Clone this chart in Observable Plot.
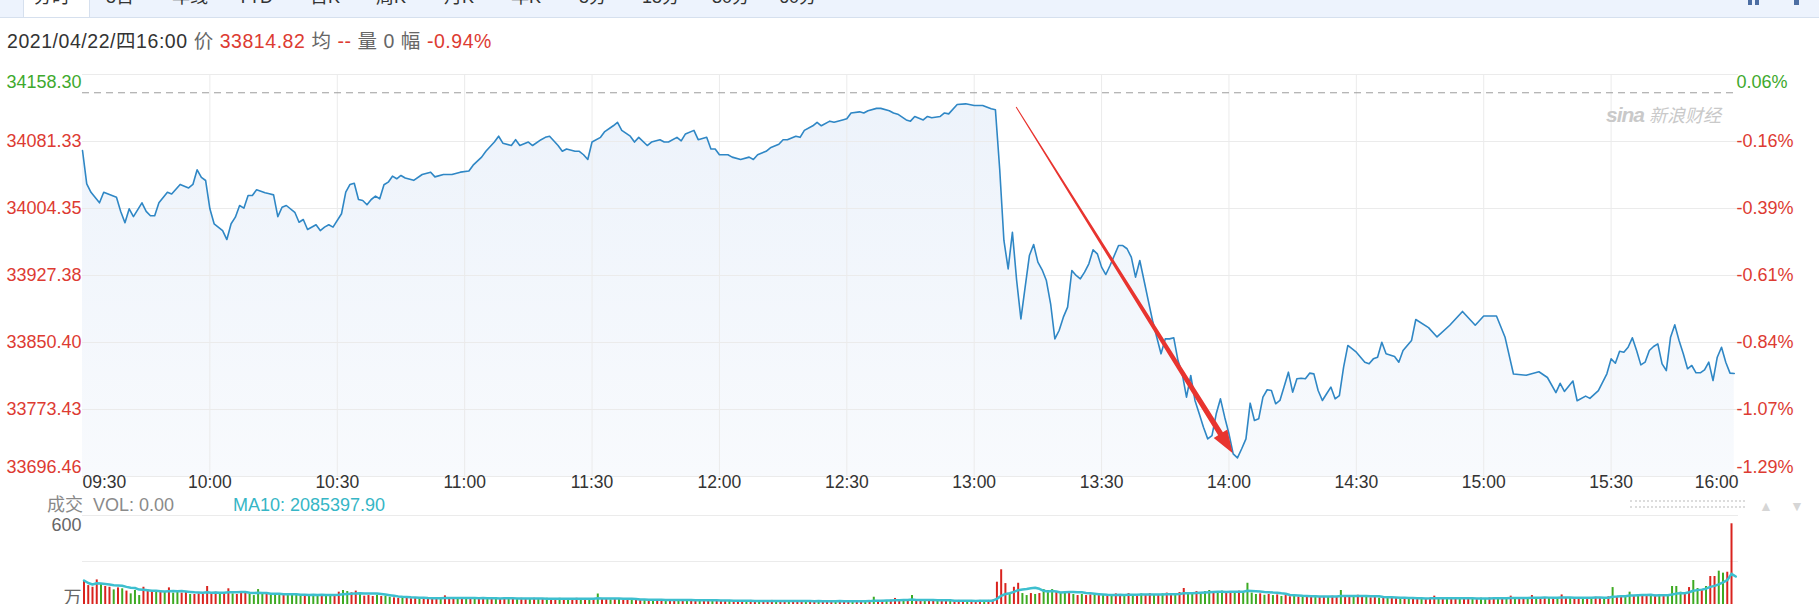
<!DOCTYPE html>
<html><head><meta charset="utf-8">
<script src="https://cdn.jsdelivr.net/npm/d3@7"></script>
<script src="https://cdn.jsdelivr.net/npm/@observablehq/plot@0.6"></script>
<style>
html,body{margin:0;padding:0;background:#fff;width:1819px;height:604px;overflow:hidden;font-family:"Liberation Sans",Arial,"Noto Sans CJK SC",sans-serif;}
#root{position:relative;width:1819px;height:604px;overflow:hidden;}
.abs{position:absolute;white-space:nowrap;line-height:1;}
#tabs{position:absolute;left:0;top:0;width:1819px;height:17px;background:#edf3fd;border-bottom:1px solid #d6e0ee;overflow:hidden;}
#active{position:absolute;left:23px;top:0;width:65px;height:18px;background:#fff;border-left:1px solid #d6e0ee;border-right:1px solid #d6e0ee;}
.tab{position:absolute;top:-12px;font-size:18px;line-height:18px;color:#333;transform:translateX(-50%);}
.r{color:#dd3b32}.gr{color:#666}
svg{position:absolute;left:0;overflow:visible}
</style></head>
<body><div id="root">
<div id="tabs"><div id="active"></div></div>
</div>
<script>
// ---------- data ----------
const tabLabels = ["分时","5日","年线","YTD","日K","周K","月K","年K","5分","15分","30分","60分"];
const prevClose = 34137.31;
const priceTicks = [34158.30, 34081.33, 34004.35, 33927.38, 33850.40, 33773.43, 33696.46];
const priceTickLabels = ["34158.30","34081.33","34004.35","33927.38","33850.40","33773.43","33696.46"];
const pctTickLabels = ["0.06%","-0.16%","-0.39%","-0.61%","-0.84%","-1.07%","-1.29%"];
const timeTicks = ["09:30","10:00","10:30","11:00","11:30","12:00","12:30","13:00","13:30","14:00","14:30","15:00","15:30","16:00"];

// [minutes since 09:30, index level]
const priceMorning = [
[0,34071],[1,34032.7],[2,34023],[4,34010.9],[5,34023],[8,34017.3],[9,34001],[10,33988],[11,34004],[12,33995],[14,34010.9],[15,34001],[16,33996],[17,33996],[18,34010.9],[20,34023],[21,34021],[23,34032],[25,34028],[26,34032],[27,34048.8],[28,34040],[29,34036.5],[30,34004],[31,33986.8],[33,33979],[34,33968.7],[35,33986.8],[36,33994.4],[37,34007.8],[38,34004.7],[39,34019.3],[40,34019.3],[41,34025.8],[43,34022.4],[44,34021.2],[45,34020],[46,33995],[47,34005.8],[48,34007.8],[50,34000],[51,33988.6],[52,33991.7],[53,33980.2],[55,33985.6],[56,33979],[57,33982.9],[58,33985.6],[59,33982.9],[61,33998.3],[62,34023.1],[63,34032],[64,34033.4],[65,34014.7],[66,34013.5],[67,34008.6],[68,34014.7],[69,34018.5],[70,34015.5],[71,34031.6],[72,34034.6],[73,34041.5],[74,34038.5],[75,34042.3],
[76,34039.4],[78,34036.7],[80,34043.4],[82,34046.1],[83,34040.7],[85,34043.4],[87,34043.4],[89,34046.1],[91,34047.4],[92,34054.1],[94,34063.4],[95,34070.1],[97,34080.7],[98,34087.4],[99,34079.4],[101,34076.7],[102,34083.4],[103,34076.7],[105,34080.7],[106,34076.7],[108,34083.4],[109,34086.1],[110,34087.4],[112,34076.7],[113,34070.1],[114,34072.7],[116,34070.1],[117,34070.1],[118,34066.1],[119,34060.7],[120,34080.7],[122,34086.1],[123,34092.7],[125,34099.4],[126,34103.4],[127,34094.1],[129,34087.4],[130,34080.7],[131,34086.1],[133,34076.7],[134,34080.7],[136,34083.4],[137,34080.7],[138,34080.7],[140,34086.1],[141,34082.1],[142,34090],[144,34094.1],[145,34083.4],[147,34086.1],[148,34072.7],[149,34072.7],[150,34066.1],[152,34066.1],[153,34063.4],[155,34060.7],[157,34063.4],[158,34060.7],[159,34066.1],[161,34070.1],[162,34074.1],[164,34078.1],[165,34083.4],[166,34083.4],[168,34087.4],[169,34086.1],[170,34094.1],[172,34099.4],[173,34103.4],[174,34099.4],[176,34104.7],[177,34103.4],[179,34106.1],[180,34107.4],[181,34114.1],[183,34115.4],[184,34114.1],[185,34116.7],[187,34119.4],[188,34119.4],[190,34116.7],[191,34114.1],[192,34112.7],[194,34106.1],[195,34104.7],[196,34110.1],[198,34106.1],[199,34110.1],[200,34108.7],[202,34110.1],[203,34114.1]
];
const priceAfternoon = [
[204,34113.1],[206,34123.8],[208,34124.6],[210,34122.7],[212,34122.7],[214,34118.9],[215,34117.7],[216,34050],[217,33967.6],[218,33935],[219,33977.1],[220,33921.6],[221,33877.6],[222,33914],[223,33950.3],[224,33963],[225,33942.7],[226,33933.9],[227,33921.6],[228,33894.9],[229,33854.6],[230,33864.2],[231,33879.5],[232,33891],[233,33933.1],[234,33927.4],[235,33923.6],[236,33931.2],[237,33940.8],[238,33956.9],[239,33952.3],[240,33937],[241,33928.5],[242,33938.9],[244,33961.8],[245,33961.8],[246,33958.1],[247,33948.4],[248,33925.5],[249,33944.6],[250,33921.6],[251,33898.6],[252,33875.7],[253,33856.5],[254,33837.4],[255,33854.6],[256,33854.6],[257,33855.8],[258,33829.7],[259,33814.4],[260,33787.6],[261,33812.5],[262,33783.8],[263,33768.5],[264,33753.1],[265,33739.7],[266,33743.5],[267,33768.5],[268,33785.7],[269,33764.6],[270,33745.5],[271,33722.5],[272,33717.9],[273,33728.3],[274,33739.7],[275,33780.7],[276,33760.8],[277,33762.7],[278,33787.6],[279,33796.1],[280,33795.2],[281,33780],[282,33783.8],[283,33799.8],[284,33816.3],[285,33793.3],[286,33808.7],[287,33809.4],[288,33808.7],[289,33815.2],[290,33814.4],[291,33795.2],[292,33783.8],[293,33791.5],[294,33799.2],[295,33785.7],[296,33789.5],[297,33822.2],[298,33847],[300,33839.3],[302,33827.8],[303,33825.9],[304,33831.6],[305,33833.5],[306,33850.7],[307,33837.4],[309,33834.3],[310,33827.8],[311,33841.2],
[313,33852.8],[314,33876.8],[317,33867.5],[319,33856.8],[322,33870.2],[325,33886.1],[328,33870.2],[330,33880.9],[333,33880.9],[335,33856.8],[337,33814.2],[340,33812.8],[343,33816.8],[345,33810.2],[347,33792.8],[348,33803.5],[349,33794.2],[351,33806.2],[352,33783.5],[354,33788.8],[355,33786.2],
[357,33795.2],[359,33814.4],[360,33831.6],[361,33826.6],[362,33840.4],[363,33839.3],[364,33845],[365,33855.8],[366,33841.2],[367,33824.7],[368,33827.8],[369,33841.2],[370,33845.8],[371,33848.9],[372,33825.9],[373,33818.2],[374,33856.5],[375,33870.7],[376,33852.7],[377,33837.4],[378,33820.2],[379,33824],[380,33815.6],[381,33815.6],[382,33819],[383,33827.8],[384,33806.7],[385,33833.5],[386,33845],[387,33827.8],[388,33815.2],[389,33814.82]
];

// per-minute volume (万), one array per half hour
const vol0930 = [176,143,132,180,150,137,132,115,128,122,107,89,111,78,132,111,107,100,107,100,128,94,100,94,100,85,85,89,85,137];
const vol1000 = [98,100,92,96,122,89,85,100,92,85,78,117,85,89,80,85,78,82,85,89,80,78,85,80,85,78,82,78,85,80];
const vol1030 = [100,111,104,96,107,85,74,78,72,80,72,74,67,63,60,63,60,57,63,60,65,57,60,63,57,76,57,60,65,57];
const vol1100 = [60,57,63,57,60,65,57,60,57,63,60,57,55,60,57,57,60,55,57,60,55,57,60,57,55,57,60,55,57,57];
const vol1130 = [57,88,52,57,50,55,52,48,55,50,52,48,50,46,52,48,50,46,48,50,46,48,50,46,48,44,46,48,44,46];
const vol1200 = [44,42,46,40,44,42,40,46,42,44,40,42,46,40,42,44,40,42,38,44,40,42,40,44,38,42,40,44,42,40];
const vol1230 = [40,42,38,44,40,46,67,44,46,42,48,59,44,46,42,78,46,44,48,42,46,44,40,46,42,44,46,40,44,42];
const vol1300 = [44,46,42,46,48,165,246,156,91,132,158,91,78,91,85,91,117,111,117,104,98,104,91,85,78,85,78,82,85,78];
const vol1330 = [78,85,80,89,85,78,91,85,82,89,85,91,80,85,89,94,85,91,98,124,85,94,104,98,104,111,98,104,107,100];
const vol1400 = [104,98,107,100,158,94,85,89,80,85,78,82,72,78,70,74,68,72,76,70,74,68,72,70,74,68,111,72,66,70];
const vol1430 = [80,66,70,63,68,61,66,59,63,61,57,63,59,61,57,55,59,61,74,59,57,61,55,59,57,61,63,59,57,61];
const vol1500 = [59,63,57,61,59,63,74,61,59,63,61,78,63,59,65,61,63,59,82,63,65,61,59,63,65,61,67,63,65,70];
const vol1530 = [130,72,78,70,100,72,78,80,72,78,80,85,78,82,137,137,100,85,130,176,124,117,137,202,202,237,224,230,546,0];
// bar colour per minute: r = up, g = down
const volColour = [
"rrrrgrrgrgrgggrrrgrgrggrrgrrrr","rrgrrgrrrggggrgggrggggrgggrggr","rggrrgrrrgrggrrgrrrgrrrrgrrrgr",
"grgrrgrgrrgrgrrgrgrgrrgrgrrgrg","rgrrgrgrrgrrgrgrrgrrgrgrrgrrgr","rrgrrrgrrgrrrgrrgrrrgrrgrrrgrr",
"rgrrgrgrrgrrrgrgrrgrrgrrgrrrgr","rrgrrrrrgrrggrgrgggrggrgrgrrgr","grgrrgrgrgrrgrgrrgrrggrgggrggr",
"rgrggggrgrgrgrrgrgrrgrrgrrgrrg","rrgrrgrgrrgrgrrgrrrgrgrrgrrgrg","grrgrgrgrrgrgrrgrgrrgrrgrgrrgr",
"grrggrgrrgrgrggggrrggrgrrggrrr"];
const arrowFrom = ["13:10", 34120.4];
const arrowTo = ["14:01", 33722.5];

// ---------- helpers ----------
const toMin = s => { const [h, m] = s.split(":").map(Number); return h * 60 + m - 570; };
const RED = "#dd3b32", GREEN = "#3ea92d", FONT = '"Liberation Sans", Arial, "Noto Sans CJK SC", sans-serif';
const root = document.getElementById("root");
function label(html, left, cy, size, color, extra) {
  const d = document.createElement("div");
  d.className = "abs";
  d.style.left = left + "px"; d.style.top = (cy - size / 2) + "px";
  d.style.fontSize = size + "px"; d.style.height = size + "px"; d.style.color = color;
  if (extra) Object.assign(d.style, extra);
  d.innerHTML = html; root.appendChild(d); return d;
}

// tabs
const tabX = [52,120,190,255,325,391,459,526,593,661,731,798];
const tabs = document.getElementById("tabs");
tabLabels.forEach((t, i) => { const d = document.createElement("div"); d.className = "tab"; d.style.left = tabX[i] + "px"; d.textContent = t; tabs.appendChild(d); });
[[1748,4],[1755,4],[1794,5]].forEach(([x,w]) => { const d = document.createElement("div"); Object.assign(d.style,{position:"absolute",left:x+"px",top:"0px",width:w+"px",height:"5px",background:"#4d6ea3"}); tabs.appendChild(d); });

// info line
label('<span style="color:#333">2021/04/22/四16:00</span> <span class="gr">价</span> <span class="r">33814.82</span> <span class="gr">均</span> <span class="r">--</span> <span class="gr">量 0</span> <span class="gr">幅</span> <span class="r">-0.94%</span>', 7, 42, 19.5, "#333", {letterSpacing: "0.55px"});

// ---------- price chart ----------
const priceData = priceMorning.concat(priceAfternoon).map(([m, p]) => ({m, p}));
const yMin = priceTicks[priceTicks.length - 1], yMax = priceTicks[0];
const tickData = priceTicks.map((v, i) => ({v, label: priceTickLabels[i], pct: pctTickLabels[i], i}));
const timeData = timeTicks.map((t, i) => ({m: toMin(t), t, i}));
const last = timeTicks.length - 1, lastTick = priceTicks.length - 1;

function arrowMark(index, scales) {
  const x = scales.x, y = scales.y;
  const g = d3.create("svg:g");
  if (typeof x !== "function") return g.node();
  const x0 = x(toMin(arrowFrom[0])), y0 = y(arrowFrom[1]);
  const x1 = x(toMin(arrowTo[0])), y1 = y(arrowTo[1]);
  const L = Math.hypot(x1 - x0, y1 - y0), ux = (x1 - x0) / L, uy = (y1 - y0) / L, nx = -uy, ny = ux;
  const H = 23, W = 8, w0 = 0.5, w1 = 2.8;
  const bx = x1 - ux * H, by = y1 - uy * H;
  const pts = [[x0 + nx*w0, y0 + ny*w0],[bx + nx*w1, by + ny*w1],[bx + nx*W, by + ny*W],[x1, y1],[bx - nx*W, by - ny*W],[bx - nx*w1, by - ny*w1],[x0 - nx*w0, y0 - ny*w0]];
  g.append("path").attr("d", "M" + pts.map(p => p.join(",")).join("L") + "Z").attr("fill", "#e8342f");
  return g.node();
}

const price = Plot.plot({
  width: 1819, height: 500,
  marginLeft: 82, marginRight: 81, marginTop: 74, marginBottom: 24,
  x: {domain: [0, 390], axis: null},
  y: {domain: [yMin, yMax], axis: null},
  style: {fontFamily: FONT, background: "transparent", overflow: "visible"},
  marks: [
    Plot.areaY(priceData, {x: "m", y1: yMin, y2: "p", fill: "url(#priceFill)"}),
    Plot.ruleY(tickData, {y: "v", stroke: "#ebebeb"}),
    Plot.ruleX(timeData.slice(1, last), {x: "m", stroke: "#ebebeb"}),
    Plot.ruleY([prevClose], {stroke: "#9c9c9c", strokeDasharray: "7,5"}),
    Plot.line(priceData, {x: "m", y: "p", stroke: "#2f87c5", strokeWidth: 1.6}),
    arrowMark,
    // left value labels
    Plot.text(tickData.slice(0, 1), {y: "v", text: "label", frameAnchor: "left", textAnchor: "end", dx: -1, dy: 8, fill: GREEN, fontSize: 18}),
    Plot.text(tickData.slice(1, lastTick), {y: "v", text: "label", frameAnchor: "left", textAnchor: "end", dx: -1, fill: RED, fontSize: 18}),
    Plot.text(tickData.slice(lastTick), {y: "v", text: "label", frameAnchor: "left", textAnchor: "end", dx: -1, dy: -9, fill: RED, fontSize: 18}),
    // right percent labels
    Plot.text(tickData.slice(0, 1), {y: "v", text: "pct", frameAnchor: "right", textAnchor: "start", dx: -2, dy: 8, fill: GREEN, fontSize: 18}),
    Plot.text(tickData.slice(1, lastTick), {y: "v", text: "pct", frameAnchor: "right", textAnchor: "start", dx: -2, fill: RED, fontSize: 18}),
    Plot.text(tickData.slice(lastTick), {y: "v", text: "pct", frameAnchor: "right", textAnchor: "start", dx: -2, dy: -9, fill: RED, fontSize: 18}),
    // time labels
    Plot.text(timeData.slice(0, 1), {x: "m", text: "t", frameAnchor: "bottom", textAnchor: "start", dy: 11, fill: "#333", fontSize: 17.5}),
    Plot.text(timeData.slice(1, last), {x: "m", text: "t", frameAnchor: "bottom", textAnchor: "middle", dy: 11, fill: "#333", fontSize: 17.5}),
    Plot.text(timeData.slice(last), {x: "m", text: "t", frameAnchor: "bottom", textAnchor: "end", dy: 11, fill: "#333", fontSize: 17.5})
  ]
});
const defs = d3.select(price).insert("defs", ":first-child");
const grad = defs.append("linearGradient").attr("id", "priceFill").attr("x1", 0).attr("y1", 0).attr("x2", 0).attr("y2", 1);
grad.append("stop").attr("offset", "0%").attr("stop-color", "#edf3fb");
grad.append("stop").attr("offset", "100%").attr("stop-color", "#f8fafd");
price.style.top = "0px";
root.appendChild(price);

// watermark
label('<span style="font-weight:bold;font-style:italic;font-size:21px;letter-spacing:-1px">sina</span><span style="font-style:italic;font-size:18px"> 新浪财经</span>', 1606, 114, 20, "#c9c9c9");

// ---------- volume chart ----------
const volBlocks = [vol0930, vol1000, vol1030, vol1100, vol1130, vol1200, vol1230, vol1300, vol1330, vol1400, vol1430, vol1500, vol1530];
const volData = volBlocks.flatMap((blk, b) => blk.map((v, j) => ({m: b * 30 + j, v, c: (volColour[b][j] || "r") === "g" ? "#3daa22" : "#d9231e"})));

label('<span style="color:#888">成交</span>&nbsp;&nbsp;<span style="color:#8a8a8a">VOL: 0.00</span>', 47, 505, 18, "#888");
label('MA10: 2085397.90', 233, 505, 18, "#36b6c6");
const dots = document.createElement("div");
Object.assign(dots.style, {position: "absolute", left: "1630px", top: "500px", width: "115px", height: "4px", borderTop: "2px dotted #dcdcdc", borderBottom: "2px dotted #dcdcdc"});
root.appendChild(dots);
label('▲', 1759, 506, 14, "#d6d6d6");
label('▼', 1790, 506, 14, "#d6d6d6");

const vol = Plot.plot({
  width: 1819, height: 115,
  marginLeft: 82, marginRight: 81, marginTop: 15, marginBottom: 8,
  x: {domain: [0, 390], axis: null},
  y: {domain: [0, 600], axis: null},
  style: {fontFamily: FONT, background: "transparent", overflow: "visible"},
  marks: [
    Plot.ruleY([300, 600], {stroke: "#ebebeb"}),
    Plot.ruleX(volData, {x: "m", y1: 0, y2: "v", stroke: "c", strokeWidth: 2, dx: 1.5}),
    Plot.lineY(volData, Plot.windowY({k: 10, anchor: "end", reduce: "mean"}, {x: "m", y: "v", stroke: "#3dbfcf", strokeWidth: 2.5, dx: 1.5})),
    Plot.text(["600"], {y: 600, text: d => d, frameAnchor: "left", textAnchor: "end", dx: -1, dy: 10, fill: "#666", fontSize: 18}),
    Plot.text(["万"], {y: 0, text: d => d, frameAnchor: "left", textAnchor: "end", dx: -1, dy: -9, fill: "#666", fontSize: 18})
  ]
});
vol.style.top = "500px";
root.appendChild(vol);
</script>
</body></html>
